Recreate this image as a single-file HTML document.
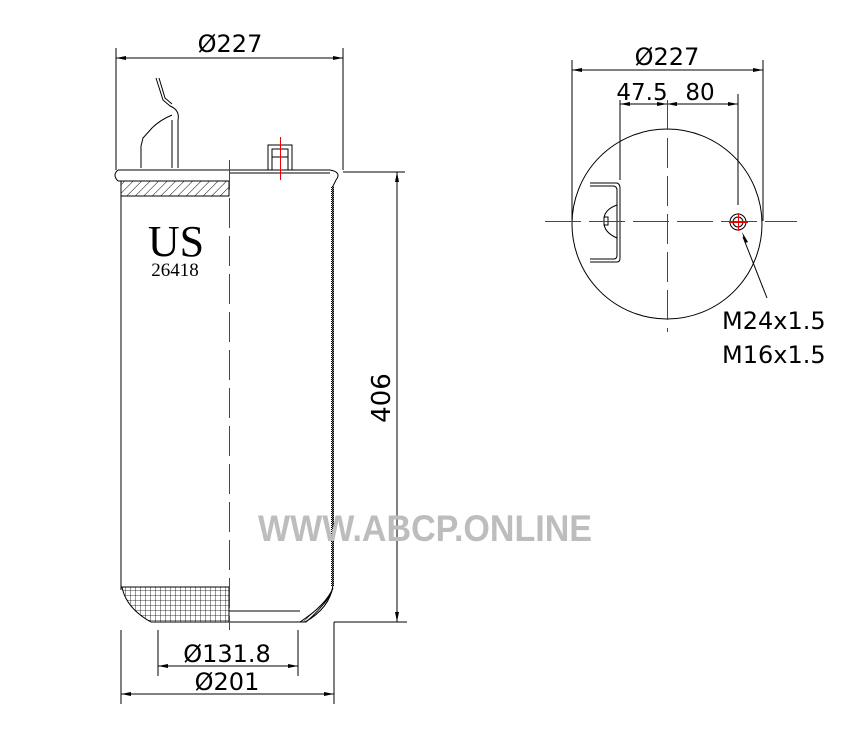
<!DOCTYPE html>
<html><head><meta charset="utf-8"><style>
html,body{margin:0;padding:0;background:#fff;}
svg{display:block;}
text{font-family:"DejaVu Sans","Liberation Sans",sans-serif;}
</style></head><body>
<svg width="850" height="750" viewBox="0 0 850 750" xmlns="http://www.w3.org/2000/svg">
<defs>
<pattern id="hatch" width="6" height="6" patternUnits="userSpaceOnUse" patternTransform="rotate(45)">
<line x1="0" y1="0" x2="0" y2="6" stroke="#000" stroke-width="1"/>
</pattern>
<pattern id="grid" width="5" height="5" patternUnits="userSpaceOnUse">
<path d="M0 0H5M0 0V5" stroke="#000" stroke-width="0.8" fill="none"/>
</pattern>
<pattern id="chk" width="2" height="2" patternUnits="userSpaceOnUse">
<rect width="1" height="1" fill="#000"/><rect x="1" y="1" width="1" height="1" fill="#000"/>
</pattern>
</defs>
<g fill="none" stroke="#000" stroke-width="1">
<line x1="116" y1="48" x2="116" y2="170"/>
<line x1="343" y1="48" x2="343" y2="170"/>
<line x1="116" y1="58" x2="343" y2="58"/>
<path d="M156 78 L163 100 L170 106 Q180 110 178 120 L178 168"/>
<path d="M159 78 L165 98 L172 104"/>
<line x1="172" y1="120" x2="172" y2="168"/>
<path d="M172 115 Q160 120 152 128 L143 138 L141 146 L141 168"/>
<path d="M118 170 L229 170 M118 181 L229 181 M118 170 Q112 175 118 181"/>
<path d="M229 170 L330 170 Q342 172 336 180 L333 186 L333 585 Q330 608 305 622 L229 622"/>
<path d="M229 173 L330 173"/>
<rect x="268" y="145" width="24" height="25"/>
<rect x="272" y="149" width="16" height="21"/>
<line x1="272" y1="157" x2="288" y2="157"/>
<line x1="121" y1="181" x2="121" y2="590"/>
<line x1="229" y1="611" x2="300" y2="611"/>
<line x1="343" y1="172" x2="405" y2="172"/>
<line x1="334" y1="622" x2="407" y2="622"/>
<line x1="397" y1="172" x2="397" y2="622"/>
<line x1="158" y1="630" x2="158" y2="676"/>
<line x1="298" y1="630" x2="298" y2="676"/>
<line x1="158" y1="666" x2="298" y2="666"/>
<line x1="121" y1="630" x2="121" y2="704"/>
<line x1="334" y1="622" x2="334" y2="704"/>
<line x1="121" y1="694" x2="334" y2="694"/>
</g>
<rect x="121" y="181" width="108" height="15" fill="url(#hatch)" stroke="#000"/>
<path d="M122 587 L229 587 L229 622 L151 622 Q126 608 122 587Z" fill="url(#grid)" stroke="#000"/>
<rect x="331" y="186" width="3" height="400" fill="url(#chk)"/>
<path d="M300 622 Q326 605 333 588 L330 596 Q318 612 306 622Z" fill="url(#hatch)" stroke="#000"/>
<g fill="#000">
<path d="M397 172 l-2 10 h4z"/><path d="M397 622 l-2 -10 h4z"/>
<path d="M116 58 l10 -2 v4z"/><path d="M343 58 l-10 -2 v4z"/>
<path d="M158 666 l10 -2 v4z"/><path d="M298 666 l-10 -2 v4z"/>
<path d="M121 694 l10 -2 v4z"/><path d="M334 694 l-10 -2 v4z"/>
</g>
<line x1="229.5" y1="160" x2="229.5" y2="630" stroke="#e00" stroke-width="1" stroke-dasharray="30,8"/>
<line x1="280.5" y1="137" x2="280.5" y2="180" stroke="#e00" stroke-width="1"/>
<text x="230" y="52" font-size="24" text-anchor="middle">Ø227</text>
<text x="176" y="256" font-size="44" text-anchor="middle" style="font-family:'Liberation Serif',serif">US</text>
<text x="175" y="276" font-size="19" text-anchor="middle" style="font-family:'Liberation Serif',serif">26418</text>
<text transform="translate(390,398) rotate(-90)" font-size="26" text-anchor="middle">406</text>
<text x="227" y="662" font-size="24" text-anchor="middle">Ø131.8</text>
<text x="227" y="690" font-size="24" text-anchor="middle">Ø201</text>
<text x="258" y="541" font-size="37" font-weight="bold" fill="#bdbdbd" textLength="334" lengthAdjust="spacingAndGlyphs" style="font-family:'Liberation Sans',sans-serif">WWW.ABCP.ONLINE</text>
<g fill="none" stroke="#000" stroke-width="1">
<line x1="572" y1="60" x2="572" y2="221"/>
<line x1="763" y1="60" x2="763" y2="221"/>
<line x1="572" y1="70" x2="763" y2="70"/>
<line x1="620" y1="100" x2="620" y2="180"/>
<line x1="738" y1="94" x2="738" y2="205"/>
<line x1="620" y1="104" x2="738" y2="104"/>
<circle cx="667" cy="224" r="95"/>
<path d="M590 183 L617 183 Q620 184 620 188 L620 258 Q620 262 617 262 L590 262"/>
<path d="M590 186 L614 186 Q617 187 617 190 L617 255 Q617 259 614 259 L590 259"/>
<path d="M617 205 Q603 210 604 221 Q603 232 617 238"/>
<rect x="604" y="217" width="4" height="8"/>
<circle cx="738" cy="222" r="8"/>
<circle cx="738" cy="222" r="5"/>
<line x1="743" y1="237" x2="767" y2="298"/>
</g>
<g fill="#000">
<path d="M572 70 l10 -2 v4z"/><path d="M763 70 l-10 -2 v4z"/>
<path d="M620 104 l10 -2 v4z"/><path d="M667 104 l-10 -2 v4z"/>
<path d="M667 104 l10 -2 v4z"/><path d="M738 104 l-10 -2 v4z"/>
<path d="M742 232 l6 10 l-3 1z"/>
</g>
<line x1="545" y1="221.5" x2="797" y2="221.5" stroke="#e00" stroke-dasharray="36,8"/>
<line x1="667.5" y1="100" x2="667.5" y2="332" stroke="#e00" stroke-dasharray="30,8"/>
<line x1="738.5" y1="213" x2="738.5" y2="231" stroke="#e00"/>
<line x1="729" y1="222.5" x2="748" y2="222.5" stroke="#e00"/>
<text x="667" y="65" font-size="24" text-anchor="middle">Ø227</text>
<text x="642" y="100" font-size="23" text-anchor="middle">47.5</text>
<text x="700" y="100" font-size="23" text-anchor="middle">80</text>
<text x="722" y="329" font-size="24">M24x1.5</text>
<text x="722" y="363" font-size="24">M16x1.5</text>
</svg>
</body></html>
